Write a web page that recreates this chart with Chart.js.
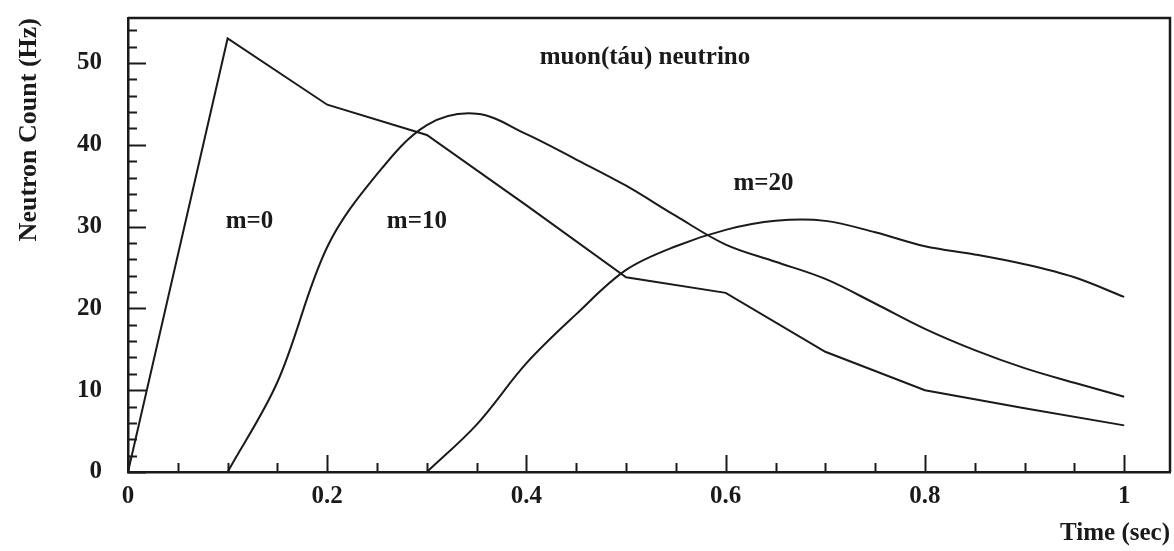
<!DOCTYPE html>
<html>
<head>
<meta charset="utf-8">
<script src="https://cdn.jsdelivr.net/npm/chart.js@4/dist/chart.umd.min.js"></script>
<style>
  html, body { margin: 0; padding: 0; background: #fff; }
  #wrap { width: 1174px; height: 551px; }
</style>
</head>
<body>
<div id="wrap"><canvas id="c" width="1174" height="551"></canvas></div>
<script>
// ---- data ----
const tM0  = [0, 0.1, 0.2, 0.3, 0.4, 0.5, 0.6, 0.7, 0.8, 0.9, 1.0];
const nM0  = [0, 53, 44.9, 41.2, 32.6, 23.8, 21.9, 14.7, 10, 7.8, 5.7];

const tM10 = [0.1, 0.15, 0.2, 0.25, 0.3, 0.35, 0.4, 0.45, 0.5, 0.55, 0.6, 0.65, 0.7, 0.75, 0.8, 0.85, 0.9, 0.95, 1.0];
const nM10 = [0, 11, 27.5, 36.4, 42.4, 43.8, 41.3, 38.2, 35.0, 31.3, 27.8, 25.7, 23.6, 20.6, 17.5, 14.9, 12.7, 10.9, 9.2];

const tM20 = [0.3, 0.35, 0.4, 0.45, 0.5, 0.55, 0.6, 0.65, 0.7, 0.75, 0.8, 0.85, 0.9, 0.95, 1.0];
const nM20 = [0, 5.8, 13.3, 19.3, 24.7, 27.6, 29.6, 30.7, 30.7, 29.3, 27.6, 26.6, 25.4, 23.8, 21.4];

const seriesLabels = ["m=0", "m=10", "m=20"];
const xTickValues = [0, 0.2, 0.4, 0.6, 0.8, 1];
const yTickValues = [0, 10, 20, 30, 40, 50];
const xMinorStep = 0.05;
const yMinorStep = 2;

// text annotations placed in data coordinates
const annotationTexts = ["muon(táu) neutrino", "m=0", "m=10", "m=20"];
const annotationX = [0.519, 0.122, 0.29, 0.638];
const annotationY = [50.7, 30.6, 30.6, 35.3];

const toPts = (xs, ys) => xs.map((x, i) => ({ x: x, y: ys[i] }));

const FONT = "'Liberation Serif', 'DejaVu Serif', serif";
const INK = '#1a1a1a';

const decorPlugin = {
  id: 'decor',
  afterDraw(chart) {
    const ctx = chart.ctx;
    const xs = chart.scales.x, ys = chart.scales.y;
    const a = chart.chartArea;
    ctx.save();
    ctx.strokeStyle = INK;
    ctx.lineWidth = 2.5;
    ctx.beginPath();
    ctx.moveTo(a.left, a.top);
    ctx.lineTo(a.right, a.top);
    ctx.lineTo(a.right, a.bottom);
    ctx.stroke();
    ctx.lineWidth = 2;
    const nx = Math.round(1 / xMinorStep);
    for (let i = 0; i <= nx; i++) {
      const v = i * xMinorStep;
      const px = Math.round(xs.getPixelForValue(v)) + 0.5;
      const major = xTickValues.some(t => Math.abs(t - v) < 1e-6);
      const len = major ? 17 : 9;
      ctx.beginPath();
      ctx.moveTo(px, a.bottom);
      ctx.lineTo(px, a.bottom - len);
      ctx.stroke();
    }
    for (let v = 0; v <= 54; v += yMinorStep) {
      const py = Math.round(ys.getPixelForValue(v)) + 0.5;
      const major = yTickValues.includes(v);
      const len = major ? 18 : 9;
      ctx.beginPath();
      ctx.moveTo(a.left, py);
      ctx.lineTo(a.left + len, py);
      ctx.stroke();
    }
    ctx.fillStyle = INK;
    ctx.font = "bold 25px " + FONT;
    ctx.textAlign = 'center';
    ctx.textBaseline = 'middle';
    annotationTexts.forEach((t, i) => {
      ctx.fillText(t, xs.getPixelForValue(annotationX[i]), ys.getPixelForValue(annotationY[i]));
    });
    ctx.restore();
  }
};

const lineStyle = {
  borderColor: INK,
  borderWidth: 2,
  pointRadius: 0,
  fill: false
};

new Chart(document.getElementById('c'), {
  type: 'line',
  data: {
    datasets: [
      Object.assign({ label: seriesLabels[0], data: toPts(tM0, nM0), tension: 0 }, lineStyle),
      Object.assign({ label: seriesLabels[1], data: toPts(tM10, nM10), tension: 0.35 }, lineStyle),
      Object.assign({ label: seriesLabels[2], data: toPts(tM20, nM20), tension: 0.35 }, lineStyle)
    ]
  },
  options: {
    responsive: false,
    animation: false,
    devicePixelRatio: 1,
    layout: { padding: { top: 18, right: 4, left: 0, bottom: 0 } },
    plugins: {
      legend: { display: false },
      tooltip: { enabled: false }
    },
    scales: {
      x: {
        type: 'linear',
        min: 0,
        max: 1.046,
        afterFit(s) { s.height = 79; s.paddingLeft = 0; s.paddingRight = 0; },
        afterBuildTicks(s) { s.ticks = xTickValues.map(v => ({ value: v })); },
        grid: { drawOnChartArea: false, drawTicks: false },
        border: { display: true, color: INK, width: 2.5 },
        ticks: {
          padding: 10,
          color: INK,
          font: { family: FONT, size: 25, weight: 'bold' },
          callback: (v) => (v === 0 || v === 1) ? String(v) : v.toFixed(1)
        },
        title: {
          display: true,
          text: 'Time (sec)',
          align: 'end',
          color: INK,
          padding: { top: 0, bottom: 2 },
          font: { family: FONT, size: 25, weight: 'bold' }
        }
      },
      y: {
        type: 'linear',
        min: 0,
        max: 55.5,
        afterFit(s) { s.width = 128; s.paddingTop = 0; s.paddingBottom = 0; },
        afterBuildTicks(s) { s.ticks = yTickValues.map(v => ({ value: v })); },
        grid: { drawOnChartArea: false, drawTicks: false },
        border: { display: true, color: INK, width: 2.5 },
        ticks: {
          padding: 26,
          color: INK,
          font: { family: FONT, size: 25, weight: 'bold' }
        },
        title: {
          display: true,
          text: 'Neutron Count (Hz)',
          align: 'end',
          color: INK,
          padding: { top: 14, bottom: 0 },
          font: { family: FONT, size: 26, weight: 'bold' }
        }
      }
    }
  },
  plugins: [decorPlugin]
});
</script>
</body>
</html>
